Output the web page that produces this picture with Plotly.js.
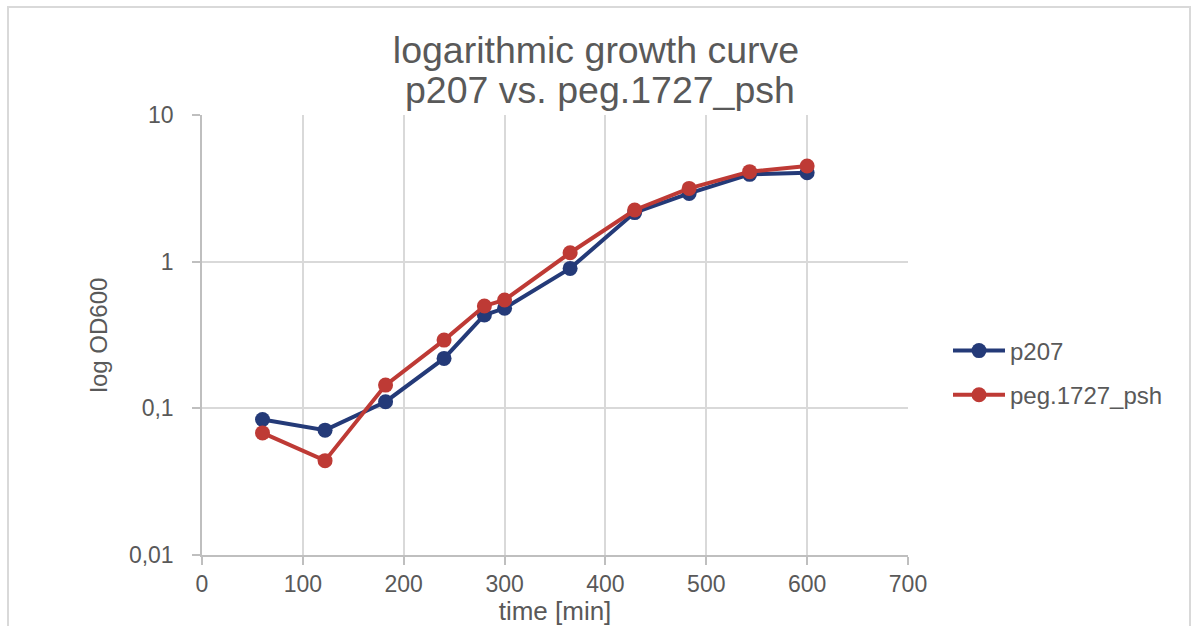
<!DOCTYPE html>
<html>
<head>
<meta charset="utf-8">
<script src="https://cdn.plot.ly/plotly-3.0.1.min.js"></script>
<style>html,body{margin:0;padding:0;background:#fff;}#chart{width:1192px;height:626px;}</style>
</head>
<body>
<div id="chart"></div>
<script>
// Data
const timeMin = [60, 122, 182, 240, 280, 300, 365, 429, 483, 543, 600];
const p207 = [0.084, 0.071, 0.111, 0.219, 0.433, 0.481, 0.90, 2.16, 2.92, 3.94, 4.04];
const peg1727 = [0.068, 0.044, 0.144, 0.292, 0.499, 0.548, 1.15, 2.25, 3.16, 4.11, 4.49];
const seriesNames = ["p207", "peg.1727_psh"];
const yTickVals = [0.01, 0.1, 1, 10];
const yTickText = ["0,01", "0,1", "1", "10"];
const xTickVals = [0, 100, 200, 300, 400, 500, 600, 700];

const textColor = "#595959";
const fontFam = "Liberation Sans, Arial, sans-serif";

const traces = [
  {x: timeMin, y: p207, name: seriesNames[0], legendgroup: "a", type: "scatter", mode: "lines+markers",
   line: {color: "#243a78", width: 4}, marker: {color: "#243a78", size: 15}},
  {x: timeMin, y: peg1727, name: seriesNames[1], legendgroup: "b", type: "scatter", mode: "lines+markers",
   line: {color: "#be3a35", width: 4}, marker: {color: "#be3a35", size: 15}}
];

const layout = {
  width: 1192, height: 626,
  margin: {l: 202, r: 284, t: 115, b: 71, pad: 0},
  paper_bgcolor: "#ffffff", plot_bgcolor: "#ffffff",
  font: {family: fontFam, color: textColor, size: 23},
  title: {text: "logarithmic growth curve", font: {size: 37.5, color: textColor, family: fontFam},
          x: 0.5, xanchor: "center", y: 1 - 63/626, yanchor: "bottom", yref: "container"},
  annotations: [{text: "p207 vs. peg.1727_psh", xref: "paper", yref: "paper",
    x: (600-202)/706, y: (555-113)/440, xanchor: "center", yanchor: "bottom", showarrow: false,
    font: {size: 37.5, color: textColor, family: fontFam}}],
  xaxis: {
    range: [0, 700], tickvals: xTickVals, ticktext: xTickVals.map(String),
    showgrid: true, gridcolor: "#d9d9d9", gridwidth: 1.5,
    showline: true, linecolor: "#bfbfbf", linewidth: 1.5,
    ticks: "outside", ticklen: 8, tickcolor: "#bfbfbf", tickwidth: 1.5,
    tickfont: {size: 23, color: textColor}, ticklabelstandoff: 0,
    zeroline: false,
    title: {text: "time [min]", font: {size: 26, color: textColor}, standoff: 1}
  },
  yaxis: {
    type: "log", range: [-2, 1], tickvals: yTickVals, ticktext: yTickText,
    showgrid: true, gridcolor: "#d9d9d9", gridwidth: 1.5,
    showline: true, linecolor: "#bfbfbf", linewidth: 1.5,
    ticks: "outside", ticklen: 8, tickcolor: "#bfbfbf", tickwidth: 1.5,
    tickfont: {size: 23, color: textColor}, ticklabelstandoff: 14,
    zeroline: false,
    title: {text: "log OD600", font: {size: 24, color: textColor}, standoff: 14}
  },
  legend: {x: (948-202)/706, xanchor: "left", y: (555-373)/440, yanchor: "middle",
           font: {size: 24, color: textColor}, bgcolor: "rgba(0,0,0,0)",
           traceorder: "grouped", tracegroupgap: 10, itemwidth: 52},
  shapes: [{type: "rect", xref: "paper", yref: "paper",
            x0: (8-202)/706, x1: (1190-202)/706, y0: (555-660)/440, y1: (555-7)/440,
            line: {color: "#d9d9d9", width: 2}, fillcolor: "rgba(0,0,0,0)", layer: "below"}],
  showlegend: true
};

Plotly.newPlot("chart", traces, layout, {displayModeBar: false, responsive: false});
</script>
</body>
</html>
